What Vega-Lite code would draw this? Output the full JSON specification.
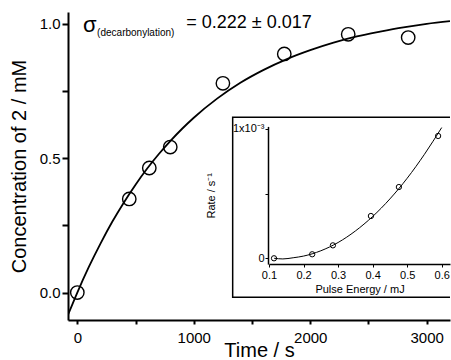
{
  "$schema": "https://vega.github.io/schema/vega-lite/v6.json",
  "width": 382,
  "height": 308,
  "autosize": {"type": "none"},
  "padding": {"left": 68, "top": 12, "right": 1, "bottom": 40},
  "background": "white",
  "config": {
    "view": {"stroke": null},
    "font": "Liberation Sans",
    "axis": {"grid": false, "domainColor": "black", "tickColor": "black", "labelColor": "black", "titleColor": "black", "labelFont": "Liberation Sans", "titleFont": "Liberation Sans", "titleFontWeight": "normal"}
  },
  "datasets": {
    "points": [
      {"time": 0, "conc": 0.0},
      {"time": 446, "conc": 0.348},
      {"time": 618, "conc": 0.463},
      {"time": 798, "conc": 0.541},
      {"time": 1250, "conc": 0.778},
      {"time": 1777, "conc": 0.887},
      {"time": 2326, "conc": 0.96},
      {"time": 2841, "conc": 0.948}
    ],
    "fit": [
      {"time": -77, "conc": -0.08},
      {"time": 0, "conc": 0.0},
      {"time": 100, "conc": 0.096},
      {"time": 200, "conc": 0.183},
      {"time": 300, "conc": 0.263},
      {"time": 400, "conc": 0.335},
      {"time": 500, "conc": 0.401},
      {"time": 600, "conc": 0.461},
      {"time": 700, "conc": 0.515},
      {"time": 800, "conc": 0.564},
      {"time": 900, "conc": 0.609},
      {"time": 1000, "conc": 0.65},
      {"time": 1200, "conc": 0.721},
      {"time": 1400, "conc": 0.78},
      {"time": 1600, "conc": 0.828},
      {"time": 1800, "conc": 0.868},
      {"time": 2000, "conc": 0.901},
      {"time": 2200, "conc": 0.929},
      {"time": 2400, "conc": 0.952},
      {"time": 2600, "conc": 0.97},
      {"time": 2800, "conc": 0.986},
      {"time": 3000, "conc": 0.999},
      {"time": 3200, "conc": 1.009}
    ],
    "insetPoints": [
      {"energy": 0.1145, "rate": 0.0},
      {"energy": 0.225, "rate": 0.031},
      {"energy": 0.285, "rate": 0.1},
      {"energy": 0.395, "rate": 0.327},
      {"energy": 0.476, "rate": 0.551},
      {"energy": 0.5896, "rate": 0.946}
    ],
    "insetFit": [
      {"energy": 0.115, "rate": 0.0},
      {"energy": 0.14, "rate": -0.005},
      {"energy": 0.17, "rate": 0.004},
      {"energy": 0.2, "rate": 0.017},
      {"energy": 0.25, "rate": 0.058},
      {"energy": 0.3, "rate": 0.122},
      {"energy": 0.35, "rate": 0.211},
      {"energy": 0.4, "rate": 0.323},
      {"energy": 0.45, "rate": 0.459},
      {"energy": 0.5, "rate": 0.619},
      {"energy": 0.55, "rate": 0.804},
      {"energy": 0.6, "rate": 1.011}
    ]
  },
  "layer": [
    {
      "layer": [
        {
          "data": {"name": "fit"},
          "mark": {"type": "line", "color": "black", "strokeWidth": 1.8, "interpolate": "monotone", "clip": true},
          "encoding": {
            "x": {"field": "time", "type": "quantitative",
              "scale": {"domain": [-80, 3200], "nice": false, "zero": false},
              "axis": {"title": "Time / s", "values": [0, 500, 1000, 1500, 2000, 2500, 3000],
                "labelExpr": "datum.value % 1000 == 0 ? datum.label : ''", "format": "d",
                "domainWidth": 2, "tickWidth": 2, "tickSize": 4, "labelFontSize": 15, "titleFontSize": 20,
                "labelPadding": 6, "titlePadding": -5, "labelFlush": false}},
            "y": {"field": "conc", "type": "quantitative",
              "scale": {"domain": [-0.102, 1.043], "nice": false, "zero": false},
              "axis": {"title": "Concentration of 2 / mM", "values": [0, 0.25, 0.5, 0.75, 1.0],
                "labelExpr": "datum.value == 0 || datum.value == 0.5 || datum.value == 1 ? format(datum.value, '.1f') : ''",
                "domainWidth": 2, "tickWidth": 2, "tickSize": 6, "labelFontSize": 15, "titleFontSize": 20,
                "labelPadding": 2, "titlePadding": 10}}
          }
        },
        {
          "data": {"name": "points"},
          "mark": {"type": "point", "shape": "circle", "filled": false, "color": "black", "strokeWidth": 1.4, "size": 180, "opacity": 1},
          "encoding": {
            "x": {"field": "time", "type": "quantitative"},
            "y": {"field": "conc", "type": "quantitative"}
          }
        },
        {
          "data": {"values": [{}]},
          "mark": {"type": "rect", "fill": "white", "stroke": "black", "strokeWidth": 1.5, "clip": true},
          "encoding": {
            "x": {"datum": 1334, "type": "quantitative"},
            "x2": {"datum": 3300},
            "y": {"datum": 0.652, "type": "quantitative"},
            "y2": {"datum": -0.017}
          }
        },
        {
          "data": {"values": [{}]},
          "mark": {"type": "text", "text": "σ", "fontSize": 22, "align": "left", "baseline": "alphabetic", "color": "black"},
          "encoding": {
            "x": {"datum": 49, "type": "quantitative"},
            "y": {"datum": 0.968, "type": "quantitative"}
          }
        },
        {
          "data": {"values": [{}]},
          "mark": {"type": "text", "text": "(decarbonylation)", "fontSize": 10, "align": "left", "baseline": "alphabetic", "color": "black"},
          "encoding": {
            "x": {"datum": 170, "type": "quantitative"},
            "y": {"datum": 0.953, "type": "quantitative"}
          }
        },
        {
          "data": {"values": [{}]},
          "mark": {"type": "text", "text": "= 0.222 ± 0.017", "fontSize": 18, "align": "left", "baseline": "alphabetic", "color": "black"},
          "encoding": {
            "x": {"datum": 935, "type": "quantitative"},
            "y": {"datum": 0.982, "type": "quantitative"}
          }
        }
      ]
    },
    {
      "layer": [
        {
          "data": {"name": "insetFit"},
          "mark": {"type": "line", "color": "black", "strokeWidth": 1, "interpolate": "monotone"},
          "encoding": {
            "x": {"field": "energy", "type": "quantitative",
              "scale": {"domain": [0.1, 0.624], "range": [201, 382], "nice": false, "zero": false},
              "axis": {"orient": "bottom", "offset": -56, "zindex": 2, "title": "Pulse Energy / mJ",
                "values": [0.1, 0.15, 0.2, 0.25, 0.3, 0.35, 0.4, 0.45, 0.5, 0.55, 0.6],
                "labelExpr": "round(datum.value * 100) % 10 == 0 ? format(datum.value, '.1f') : ''",
                "domainWidth": 1.5, "tickWidth": 1, "tickSize": 3, "labelFontSize": 11, "titleFontSize": 11,
                "labelPadding": 2, "titlePadding": 3, "labelFlush": false}},
            "y": {"field": "rate", "type": "quantitative",
              "scale": {"domain": [-0.045, 1.02], "range": [252.1, 114.4], "nice": false, "zero": false},
              "axis": {"orient": "left", "offset": -200, "zindex": 2, "title": "Rate / s⁻¹",
                "values": [0, 0.5, 1],
                "labelExpr": "datum.value == 1 ? '1x10⁻³' : datum.value == 0 ? '0' : ''",
                "domainWidth": 1.5, "tickWidth": 1, "tickSize": 3, "labelFontSize": 11, "titleFontSize": 11,
                "labelPadding": 1, "titlePadding": 16}}
          }
        },
        {
          "data": {"name": "insetPoints"},
          "mark": {"type": "point", "shape": "circle", "filled": false, "color": "black", "strokeWidth": 1, "size": 28, "opacity": 1},
          "encoding": {
            "x": {"field": "energy", "type": "quantitative"},
            "y": {"field": "rate", "type": "quantitative"}
          }
        }
      ]
    }
  ],
  "resolve": {"scale": {"x": "independent", "y": "independent"}, "axis": {"x": "independent", "y": "independent"}}
}
